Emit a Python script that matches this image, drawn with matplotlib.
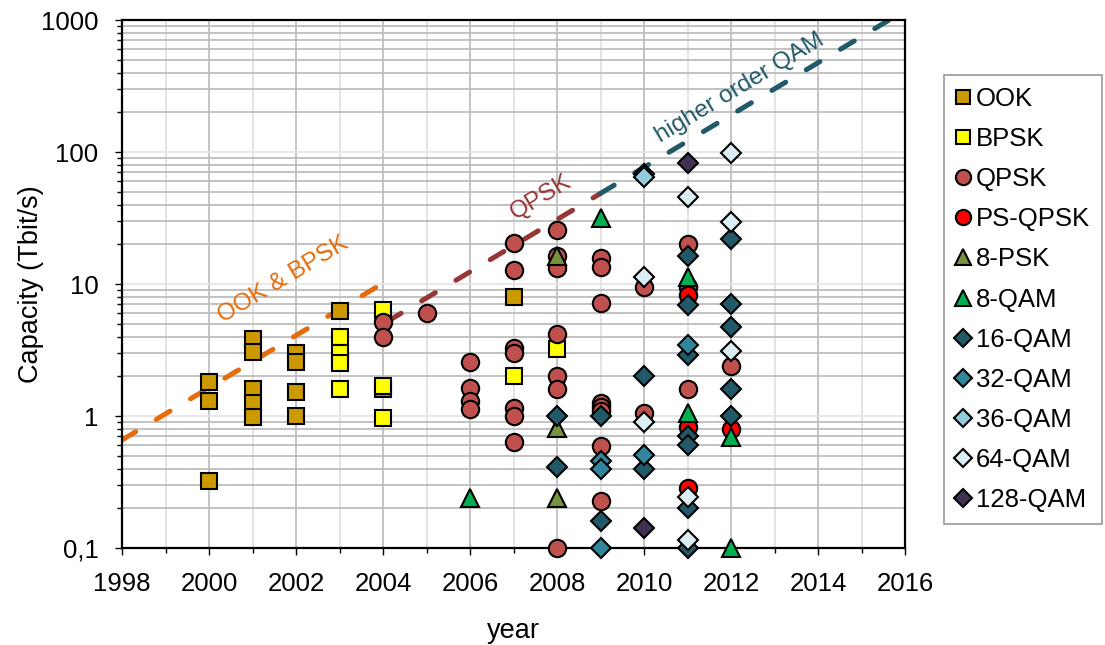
import numpy as np
import matplotlib.pyplot as plt
from matplotlib.ticker import FixedLocator, FixedFormatter, LogLocator, NullFormatter

plt.rcParams['font.family'] = ['Liberation Sans', 'DejaVu Sans']

# capacity records per modulation format: year, capacity in Tbit/s
ook_year = [2000, 2000, 2000, 2001, 2001, 2001, 2001, 2001, 2002, 2002, 2002, 2002, 2003, 2004, 2007]
ook_cap = [1.8, 1.3, 0.32, 3.8, 3.05, 1.6, 1.25, 0.98, 3.0, 2.55, 1.52, 1.0, 6.2, 1.6, 8.0]

bpsk_year = [2003, 2003, 2003, 2003, 2004, 2004, 2004, 2007, 2008]
bpsk_cap = [4.0, 3.0, 2.5, 1.6, 6.4, 1.7, 0.97, 2.0, 3.2]

qpsk_year = [2004, 2004, 2005, 2006, 2006, 2006, 2006,
             2007, 2007, 2007, 2007, 2007, 2007, 2007,
             2008, 2008, 2008, 2008, 2008, 2008, 2008,
             2009, 2009, 2009, 2009, 2009, 2009, 2009, 2009,
             2010, 2010, 2011, 2011, 2011, 2012]
qpsk_cap = [5.15, 4.0, 6.0, 2.56, 1.63, 1.3, 1.13,
            20.5, 12.8, 3.27, 3.0, 1.15, 1.0, 0.635,
            25.7, 16.3, 13.2, 4.18, 2.0, 1.6, 0.1,
            15.7, 13.5, 7.2, 1.25, 1.17, 1.1, 0.59, 0.227,
            9.5, 1.05, 20.1, 9.5, 1.6, 2.39]

psqpsk_year = [2011, 2011, 2011, 2012]
psqpsk_cap = [8.3, 0.83, 0.285, 0.8]

psk8_year = [2008, 2008, 2008]
psk8_cap = [16.3, 0.81, 0.24]

qam8_year = [2006, 2009, 2011, 2011, 2012, 2012]
qam8_cap = [0.24, 31.6, 11.3, 1.05, 0.69, 0.1]

qam16_year = [2008, 2008, 2009, 2009, 2010, 2010,
              2011, 2011, 2011, 2011, 2011, 2011, 2011,
              2012, 2012, 2012, 2012, 2012]
qam16_cap = [1.0, 0.41, 1.0, 0.16, 2.0, 0.4,
             16.2, 6.9, 2.9, 0.7, 0.6, 0.2, 0.1,
             21.9, 7.05, 4.72, 1.6, 1.0]

qam32_year = [2009, 2009, 2009, 2010, 2010, 2011]
qam32_cap = [0.456, 0.4, 0.1, 0.51, 68, 3.45]

qam36_year = [2010]
qam36_cap = [64.5]

qam64_year = [2010, 2010, 2011, 2011, 2011, 2012, 2012, 2012]
qam64_cap = [11.3, 0.9, 45.6, 0.243, 0.115, 98, 29.5, 3.1]

qam128_year = [2010, 2011]
qam128_cap = [0.142, 82.6]

series = [
    ('OOK', ook_year, ook_cap, 's', '#CC9900', 11.5),
    ('BPSK', bpsk_year, bpsk_cap, 's', '#FFFF00', 11.5),
    ('QPSK', qpsk_year, qpsk_cap, 'o', '#C0504D', 12.5),
    ('PS-QPSK', psqpsk_year, psqpsk_cap, 'o', '#FF0000', 12.5),
    ('8-PSK', psk8_year, psk8_cap, '^', '#77933C', 12.5),
    ('8-QAM', qam8_year, qam8_cap, '^', '#00B050', 12.5),
    ('16-QAM', qam16_year, qam16_cap, 'D', '#215968', 10),
    ('32-QAM', qam32_year, qam32_cap, 'D', '#31859C', 10),
    ('36-QAM', qam36_year, qam36_cap, 'D', '#93CDDD', 10),
    ('64-QAM', qam64_year, qam64_cap, 'D', '#DBEEF4', 10),
    ('128-QAM', qam128_year, qam128_cap, 'D', '#403151', 10),
]

# trend lines: 10x every ~5 years
trend_slope = 0.198
ook_trend = (1998.0, 2004.0, 0.658)     # start year, end year, value at start
qpsk_trend = (2004.1, 2009.0, 5.2)
qam_trend = (2009.0, 2016.0, None)

fig = plt.figure(figsize=(11.05, 6.45), dpi=100)
ax = fig.add_axes([122 / 1105, 1 - 548 / 645, 783 / 1105, 528 / 645])

def trend(y0, y1, v0, color):
    yrs = np.linspace(y0, y1, 50)
    vals = v0 * 10 ** (trend_slope * (yrs - y0))
    ax.plot(yrs, vals, color=color, lw=3.6, dashes=(3.2, 4.8),
            dash_capstyle='round', solid_capstyle='round', zorder=2)
    return vals[-1]

trend(ook_trend[0], ook_trend[1], ook_trend[2], '#E46C0A')
v_end = trend(qpsk_trend[0], qpsk_trend[1], qpsk_trend[2], '#953735')
trend(qam_trend[0], qam_trend[1], v_end, '#215968')

for name, yrs, caps, m, c, ms in series:
    ax.plot(yrs, caps, ls='none', marker=m, ms=ms, mfc=c, mec='black',
            mew=1.5, label=name, zorder=3, clip_on=False)

ax.text(2001.70, 10.7, 'OOK & BPSK', color='#E46C0A', fontsize=17.5,
        rotation=31, ha='center', va='center', rotation_mode='anchor')
ax.text(2007.63, 45.6, 'QPSK', color='#953735', fontsize=17.5,
        rotation=31, ha='center', va='center', rotation_mode='anchor')
ax.text(2012.2, 305, 'higher order QAM', color='#215968', fontsize=17.5,
        rotation=31, ha='center', va='center', rotation_mode='anchor')

ax.set_yscale('log')
ax.set_xlim(1998, 2016)
ax.set_ylim(0.1, 1000)

ax.xaxis.set_major_locator(FixedLocator(np.arange(1998, 2017, 2)))
ax.xaxis.set_minor_locator(FixedLocator(np.arange(1999, 2016, 2)))
ax.yaxis.set_major_locator(FixedLocator([0.1, 1, 10, 100, 1000]))
ax.yaxis.set_major_formatter(FixedFormatter(['0,1', '1', '10', '100', '1000']))
ax.yaxis.set_minor_locator(LogLocator(base=10, subs=np.arange(2, 10)))
ax.yaxis.set_minor_formatter(NullFormatter())

ax.grid(which='major', axis='x', color='#bfbfbf', lw=1.3)
ax.grid(which='minor', axis='x', color='#e2e2e2', lw=1.3)
ax.grid(which='major', axis='y', color='#e6e6e6', lw=1.3)
ax.grid(which='minor', axis='y', color='#bdbdbd', lw=1.3)
ax.set_axisbelow(True)

for sp in ax.spines.values():
    sp.set_linewidth(1.6)
    sp.set_color('black')

ax.tick_params(which='major', direction='out', length=5, width=1, labelsize=18.5)
ax.tick_params(which='minor', direction='out', length=3.5, width=1)
ax.tick_params(axis='y', which='major', pad=12)
ax.tick_params(axis='x', which='major', pad=12)

ax.set_ylabel('Capacity (Tbit/s)', fontsize=19.5)
ax.yaxis.set_label_coords(-0.10, 0.5)
ax.set_xlabel('year', fontsize=19.5, labelpad=16)

leg = fig.legend(loc='upper left', bbox_to_anchor=(944 / 1105, 1 - 75 / 645),
                 fontsize=18.5, frameon=True, fancybox=False, markerscale=0.88,
                 handlelength=0.6, handletextpad=0.2, labelspacing=0.63,
                 borderpad=0.45, borderaxespad=0)
leg.get_frame().set_edgecolor('#7f7f7f')
leg.get_frame().set_linewidth(1.2)

fig.savefig('out.png', dpi=100)
